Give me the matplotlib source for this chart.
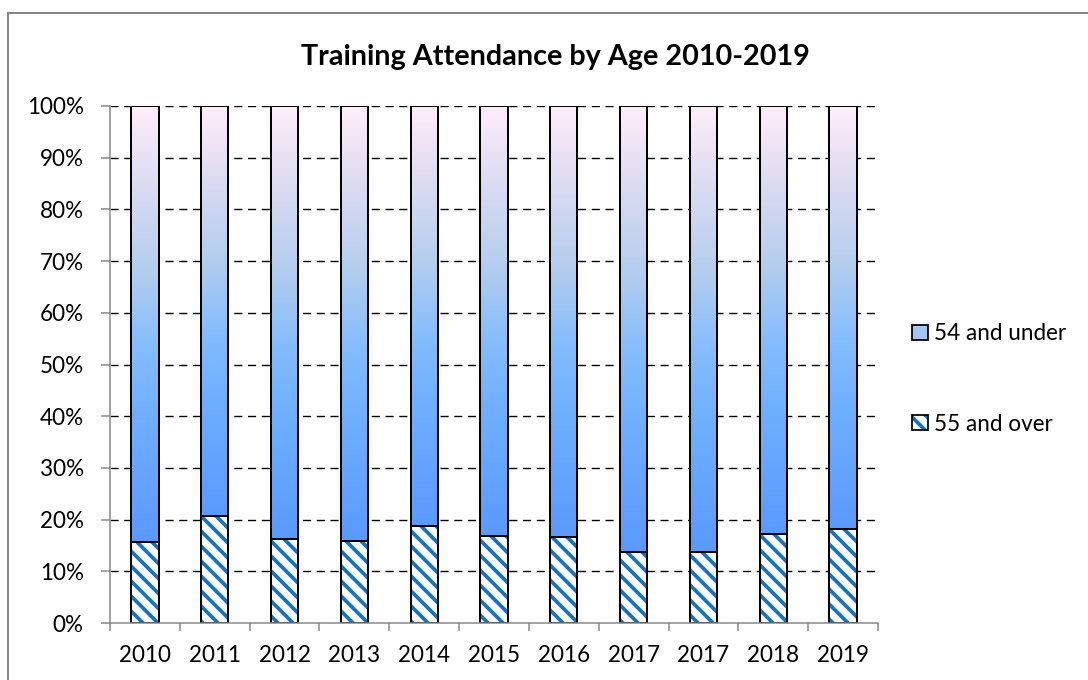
import matplotlib
matplotlib.use("Agg")
import matplotlib.pyplot as plt
import numpy as np
from matplotlib.patches import Rectangle, Patch
from matplotlib.colors import LinearSegmentedColormap

# ---- data ----
years = ['2010', '2011', '2012', '2013', '2014', '2015', '2016', '2017', '2017', '2018', '2019']
over_55 = [15.7, 20.6, 16.3, 15.9, 18.7, 16.8, 16.6, 13.7, 13.7, 17.2, 18.2]
under_54 = [84.3, 79.4, 83.7, 84.1, 81.3, 83.2, 83.4, 86.3, 86.3, 82.8, 81.8]
y_ticks = [0, 10, 20, 30, 40, 50, 60, 70, 80, 90, 100]
y_labels = ['0%', '10%', '20%', '30%', '40%', '50%', '60%', '70%', '80%', '90%', '100%']
title = 'Training Attendance by Age 2010-2019'
labels = ['54 and under', '55 and over']

DPI = 90
W, H = 1088, 680
plt.rcParams['font.family'] = ['Lato', 'DejaVu Sans']
plt.rcParams['hatch.linewidth'] = 3.0
plt.rcParams['lines.scale_dashes'] = False

fig = plt.figure(figsize=(W / DPI, H / DPI), dpi=DPI)
fig.patch.set_facecolor('white')

# outer chart border
fig.patches.append(Rectangle((8 / W, -0.2), 1.5, (680 - 13) / H + 0.2,
                             transform=fig.transFigure, fill=False,
                             edgecolor='#878787', linewidth=1.6, zorder=0))

ax = fig.add_axes([110 / W, 57 / H, 768 / W, 517 / H])

tot = np.array(over_55) + np.array(under_54)
p_over = np.array(over_55) / tot * 100
p_under = np.array(under_54) / tot * 100
x = np.arange(len(years))
bw = 0.39

grad_cmap = LinearSegmentedColormap.from_list(
    'g', [(0.0, '#5a99ff'), (0.3, '#70b0ff'), (0.45, '#85bdfd'),
          (0.62, '#b2cdee'), (0.85, '#e2def2'), (1.0, '#ffeefa')])
grad = np.linspace(0, 1, 256).reshape(-1, 1)

# gridlines
for t in y_ticks[1:]:
    ax.axhline(t, color='black', linewidth=1.1, linestyle=(0, (6.5, 4.5)), zorder=1)

hatch_color = '#1673c2'
hatch = '\\\\'
# lower hatched segment
ax.bar(x, p_over, width=bw, color='white', edgecolor=hatch_color, hatch=hatch,
       linewidth=0, zorder=2)
ax.bar(x, p_over, width=bw, facecolor='none', edgecolor='black', linewidth=1.6, zorder=4)

# upper gradient segment
for xi, b, h in zip(x, p_over, p_under):
    ax.imshow(grad, extent=[xi - bw / 2, xi + bw / 2, b, b + h], origin='lower',
              aspect='auto', cmap=grad_cmap, zorder=3, interpolation='bilinear')
ax.bar(x, p_under, bottom=p_over, width=bw, facecolor='none', edgecolor='black',
       linewidth=1.6, zorder=4)

ax.set_xlim(-0.5, len(years) - 0.5)
ax.set_ylim(0, 100)

# axes styling
for s in ['top', 'right']:
    ax.spines[s].set_visible(False)
for s in ['left', 'bottom']:
    ax.spines[s].set_color('#868686')
    ax.spines[s].set_linewidth(1.2)
    ax.spines[s].set_zorder(5)

ax.set_yticks(y_ticks)
ax.set_yticklabels(y_labels)
ax.tick_params(axis='y', direction='out', length=7, width=1.2, color='#868686',
               labelsize=18, pad=14)

ax.set_xticks(np.arange(len(years) + 1) - 0.5)
ax.set_xticklabels([])
ax.set_xticks(x, minor=True)
ax.set_xticklabels(years, minor=True)
ax.tick_params(axis='x', which='major', direction='out', length=6.5, width=1.2, color='#868686')
ax.tick_params(axis='x', which='minor', length=0, labelsize=18, pad=18)

fig.text(555 / W, (H - 65) / H, title, ha='center', va='baseline',
         fontsize=23, fontweight='bold')

h_under = Patch(facecolor='#a3c5f3', edgecolor='black', linewidth=1.4)
h_over_a = Patch(facecolor='white', edgecolor=hatch_color, hatch=hatch, linewidth=0)
h_over_b = Patch(facecolor='none', edgecolor='black', linewidth=1.4)
leg = ax.legend([h_under, (h_over_a, h_over_b)], labels,
                loc='center left', bbox_to_anchor=(912 / W, (H - 379) / H),
                bbox_transform=fig.transFigure, frameon=False, fontsize=18,
                handlelength=0.7, handleheight=0.65, handletextpad=0.28,
                labelspacing=3.1, borderpad=0, borderaxespad=0)

fig.savefig('out.png', dpi=DPI)
